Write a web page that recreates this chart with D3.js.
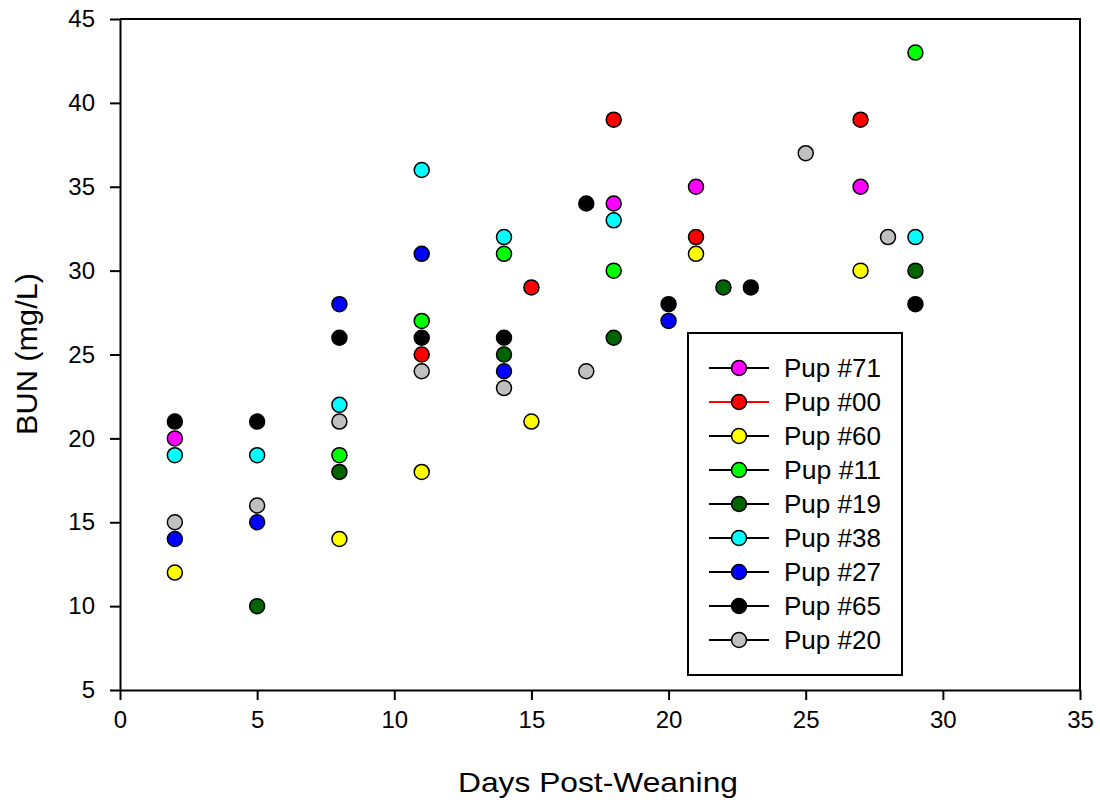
<!DOCTYPE html>
<html>
<head>
<meta charset="utf-8">
<script src="https://cdn.jsdelivr.net/npm/d3@7"></script>
<style>
  body { margin: 0; background: #fff; }
  text { font-family: "Liberation Sans", Arial, sans-serif; fill: #000; }
</style>
</head>
<body>
<div id="chart"></div>
<script>
// series names and colours (legend order)
var pups = ["Pup #71", "Pup #00", "Pup #60", "Pup #11", "Pup #19", "Pup #38", "Pup #27", "Pup #65", "Pup #20"];
var colors = ["#ff00ff", "#ff0000", "#ffff00", "#00ff00", "#006400", "#00ffff", "#0000ff", "#000000", "#c0c0c0"];
var legendLine = ["#000", "#ff0000", "#000", "#000", "#000", "#000", "#000", "#000", "#000"];

// days and BUN values for each pup
var days71 = [2, 18, 21, 27];
var bun71 = [20, 34, 35, 35];
var days00 = [11, 15, 18, 21, 27];
var bun00 = [25, 29, 39, 32, 39];
var days60 = [2, 8, 11, 15, 21, 27];
var bun60 = [12, 14, 18, 21, 31, 30];
var days11 = [8, 11, 14, 18, 29];
var bun11 = [19, 27, 31, 30, 43];
var days19 = [5, 8, 14, 18, 22, 29];
var bun19 = [10, 18, 25, 26, 29, 30];
var days38 = [2, 5, 8, 11, 14, 18, 29];
var bun38 = [19, 19, 22, 36, 32, 33, 32];
var days27 = [2, 5, 8, 11, 14, 20];
var bun27 = [14, 15, 28, 31, 24, 27];
var days65 = [2, 5, 8, 11, 14, 17, 20, 23, 29];
var bun65 = [21, 21, 26, 26, 26, 34, 28, 29, 28];
var days20 = [2, 5, 8, 11, 14, 17, 25, 28];
var bun20 = [15, 16, 21, 24, 23, 24, 37, 32];

var xTicks = [0, 5, 10, 15, 20, 25, 30, 35];
var yTicks = [5, 10, 15, 20, 25, 30, 35, 40, 45];

var allDays = [days71, days00, days60, days11, days19, days38, days27, days65, days20];
var allBun = [bun71, bun00, bun60, bun11, bun19, bun38, bun27, bun65, bun20];

var svgWidth = 1100;
var svgHeight = 806;
var margin = { top: 19, right: 20, bottom: 116, left: 120 };
var chartWidth = svgWidth - margin.left - margin.right;
var chartHeight = svgHeight - margin.top - margin.bottom;

var svg = d3.select("#chart")
  .append("svg")
  .attr("width", svgWidth)
  .attr("height", svgHeight);

var chart = svg.append("g")
  .attr("transform", "translate(" + margin.left + "," + margin.top + ")");

var xScale = d3.scaleLinear().domain([0, 35]).range([0, chartWidth]);
var yScale = d3.scaleLinear().domain([5, 45]).range([chartHeight, 0]);

// frame (top and right)
chart.append("path")
  .attr("d", "M0,0H" + chartWidth + "V" + chartHeight)
  .attr("fill", "none")
  .attr("stroke", "#000")
  .attr("stroke-width", 2);

var bottomAxis = d3.axisBottom(xScale).tickValues(xTicks).tickSize(10).tickSizeOuter(0).tickPadding(11);
var leftAxis = d3.axisLeft(yScale).tickValues(yTicks).tickSize(10).tickSizeOuter(0).tickPadding(15);

var gx = chart.append("g")
  .attr("transform", "translate(0," + chartHeight + ")")
  .call(bottomAxis);
var gy = chart.append("g").call(leftAxis);

[gx, gy].forEach(function(g) {
  g.selectAll("path, line").attr("stroke", "#000").attr("stroke-width", 2);
  g.selectAll("text").attr("font-size", 24).attr("font-family", "Liberation Sans, Arial, sans-serif").attr("fill", "#000");
});

// points
allDays.forEach(function(days, i) {
  var pts = days.map(function(d, j) { return { day: d, bun: allBun[i][j] }; });
  chart.append("g").selectAll("circle")
    .data(pts)
    .enter().append("circle")
    .attr("cx", function(d) { return xScale(d.day); })
    .attr("cy", function(d) { return yScale(d.bun); })
    .attr("r", 7.5)
    .attr("fill", colors[i])
    .attr("stroke", "#000")
    .attr("stroke-width", 1.5);
});

// axis titles
svg.append("text")
  .attr("x", 598)
  .attr("y", 792)
  .attr("text-anchor", "middle")
  .attr("font-size", 28)
  .attr("textLength", 280)
  .attr("lengthAdjust", "spacingAndGlyphs")
  .text("Days Post-Weaning");

svg.append("text")
  .attr("transform", "translate(37,354) rotate(-90)")
  .attr("text-anchor", "middle")
  .attr("font-size", 30)
  .attr("textLength", 162)
  .attr("lengthAdjust", "spacingAndGlyphs")
  .text("BUN (mg/L)");

// legend
var legend = svg.append("g");
legend.append("rect")
  .attr("x", 688).attr("y", 333)
  .attr("width", 214).attr("height", 342)
  .attr("fill", "#fff")
  .attr("stroke", "#000")
  .attr("stroke-width", 2);

var rowY = d3.scaleLinear().domain([0, 8]).range([368, 640]);

pups.forEach(function(name, i) {
  var y = rowY(i);
  legend.append("line")
    .attr("x1", 709).attr("x2", 769)
    .attr("y1", y).attr("y2", y)
    .attr("stroke", legendLine[i])
    .attr("stroke-width", 2);
  legend.append("circle")
    .attr("cx", 739).attr("cy", y)
    .attr("r", 7.5)
    .attr("fill", colors[i])
    .attr("stroke", "#000")
    .attr("stroke-width", 1.5);
  legend.append("text")
    .attr("x", 784).attr("y", y)
    .attr("dy", "0.36em")
    .attr("font-size", 25)
    .attr("textLength", 97)
    .attr("lengthAdjust", "spacingAndGlyphs")
    .text(name);
});
</script>
</body>
</html>
